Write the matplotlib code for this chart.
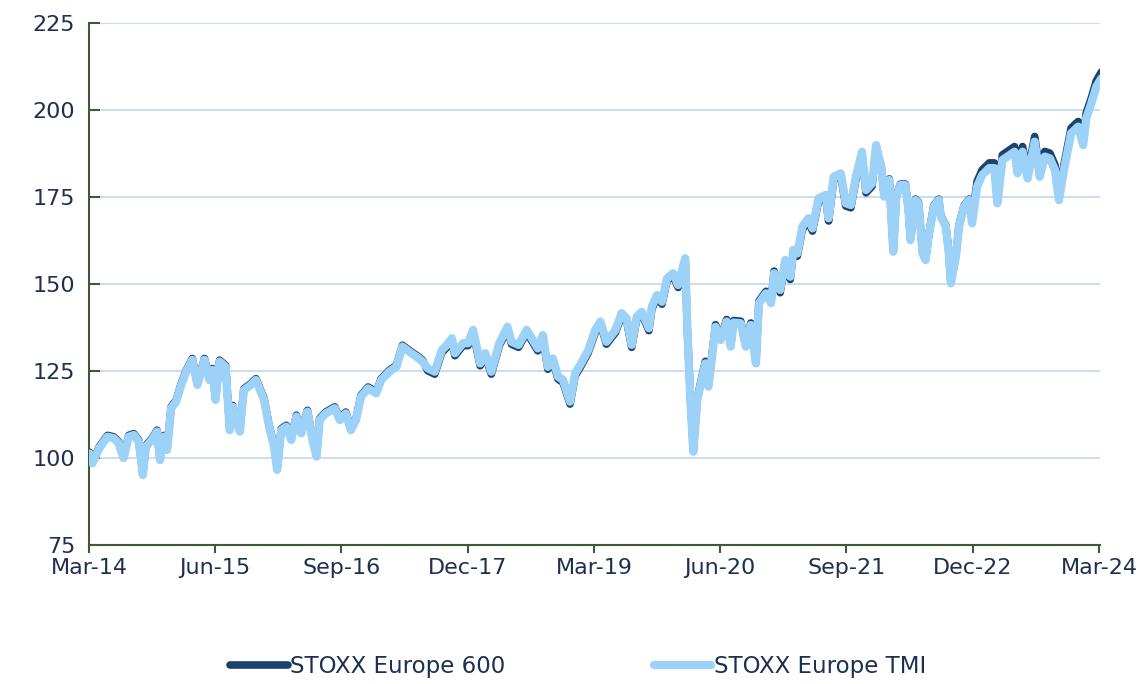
import matplotlib as mpl
mpl.use('Agg')
import matplotlib.pyplot as plt
import numpy as np

# dates as decimal years (rebased to 100)
dates = [
    2014.17, 2014.20, 2014.27, 2014.35, 2014.41, 2014.46, 2014.51, 2014.56, 2014.61, 2014.66,
    2014.70, 2014.73, 2014.79, 2014.84, 2014.87, 2014.91, 2014.94, 2014.98, 2015.03, 2015.08,
    2015.13, 2015.19, 2015.24, 2015.31, 2015.36, 2015.39, 2015.42, 2015.46, 2015.52, 2015.56,
    2015.59, 2015.66, 2015.70, 2015.77, 2015.82, 2015.90, 2015.95, 2016.00, 2016.03, 2016.07,
    2016.12, 2016.17, 2016.22, 2016.27, 2016.33, 2016.38, 2016.42, 2016.45, 2016.51, 2016.60,
    2016.65, 2016.71, 2016.76, 2016.81, 2016.86, 2016.93, 2017.01, 2017.06, 2017.14, 2017.21,
    2017.27, 2017.34, 2017.41, 2017.47, 2017.52, 2017.59, 2017.66, 2017.71, 2017.76, 2017.79,
    2017.87, 2017.92, 2017.97, 2018.04, 2018.09, 2018.15, 2018.23, 2018.31, 2018.35, 2018.42,
    2018.50, 2018.55, 2018.61, 2018.66, 2018.71, 2018.76, 2018.81, 2018.86, 2018.93, 2018.98,
    2019.04, 2019.11, 2019.18, 2019.23, 2019.29, 2019.38, 2019.44, 2019.49, 2019.54, 2019.59,
    2019.64, 2019.71, 2019.74, 2019.79, 2019.84, 2019.89, 2019.95, 2020.00, 2020.07, 2020.09,
    2020.12, 2020.15, 2020.19, 2020.24, 2020.27, 2020.30, 2020.37, 2020.42, 2020.48, 2020.52,
    2020.55, 2020.62, 2020.67, 2020.72, 2020.77, 2020.80, 2020.87, 2020.92, 2020.95, 2021.01,
    2021.06, 2021.11, 2021.14, 2021.18, 2021.23, 2021.29, 2021.33, 2021.39, 2021.46, 2021.49,
    2021.54, 2021.61, 2021.66, 2021.71, 2021.76, 2021.82, 2021.86, 2021.92, 2021.96, 2022.01,
    2022.04, 2022.09, 2022.13, 2022.16, 2022.20, 2022.25, 2022.28, 2022.30, 2022.35, 2022.38,
    2022.42, 2022.45, 2022.48, 2022.53, 2022.58, 2022.60, 2022.65, 2022.68, 2022.70, 2022.75,
    2022.78, 2022.83, 2022.88, 2022.91, 2022.96, 2023.01, 2023.08, 2023.13, 2023.16, 2023.21,
    2023.26, 2023.33, 2023.36, 2023.41, 2023.46, 2023.53, 2023.58, 2023.63, 2023.68, 2023.73,
    2023.77, 2023.82, 2023.89, 2023.96, 2024.01, 2024.04, 2024.09, 2024.14, 2024.19,
]

stoxx_tmi = [
    101.3, 98.5, 102.9, 106.1, 105.7, 104.3, 100.0, 106.1, 106.6, 104.7,
    95.1, 103.2, 105.2, 107.6, 99.4, 106.1, 102.3, 114.3, 116.2, 121.0,
    124.8, 128.2, 121.0, 128.2, 122.4, 125.3, 116.7, 127.7, 126.2, 108.0,
    114.7, 107.6, 119.5, 121.0, 122.4, 116.7, 109.0, 103.2, 96.6, 108.0,
    109.0, 105.2, 111.9, 107.1, 113.3, 105.2, 100.4, 110.9, 112.8, 114.3,
    110.9, 112.8, 108.0, 110.9, 117.6, 120.0, 118.6, 122.4, 124.8, 126.2,
    132.0, 130.5, 129.1, 127.7, 125.8, 124.8, 131.0, 132.5, 134.4, 130.1,
    133.0, 133.0, 136.8, 127.2, 130.1, 124.8, 133.0, 137.7, 133.4, 132.5,
    136.8, 134.4, 131.5, 135.3, 126.2, 128.6, 123.4, 122.4, 116.2, 124.3,
    127.2, 131.0, 136.8, 139.2, 133.4, 136.8, 141.6, 140.1, 132.5, 140.6,
    142.0, 137.3, 143.5, 146.8, 144.9, 151.6, 153.1, 149.7, 157.4, 137.7,
    117.6, 101.8, 116.7, 123.4, 127.2, 120.5, 137.7, 133.9, 139.2, 132.0,
    138.9, 138.7, 132.0, 138.2, 127.2, 144.5, 147.3, 144.5, 153.1, 148.3,
    156.9, 152.1, 159.8, 158.8, 166.5, 168.9, 166.0, 174.6, 175.6, 168.9,
    180.8, 181.8, 173.2, 172.7, 180.8, 188.0, 177.0, 178.9, 189.9, 183.7,
    175.1, 179.9, 159.3, 175.1, 178.4, 178.4, 171.3, 162.6, 174.1, 173.2,
    158.8, 156.9, 163.6, 172.2, 174.1, 169.3, 166.5, 158.8, 150.2, 157.9,
    166.5, 172.2, 174.1, 167.4, 178.0, 181.3, 183.3, 183.3, 173.2, 185.6,
    186.6, 188.0, 181.8, 188.0, 180.3, 190.9, 180.8, 186.6, 186.1, 182.8,
    174.1, 182.8, 193.3, 195.2, 189.9, 197.6, 201.9, 206.7, 209.1,
]

stoxx_600 = [
    101.7, 98.9, 103.3, 106.5, 106.1, 104.7, 100.4, 106.5, 107.0, 105.1,
    95.5, 103.6, 105.6, 108.0, 99.8, 106.5, 102.7, 114.7, 116.6, 121.4,
    125.2, 128.6, 121.4, 128.6, 122.8, 125.7, 117.1, 128.1, 126.6, 108.4,
    115.1, 108.0, 119.9, 121.4, 122.8, 117.1, 109.4, 103.6, 97.0, 108.4,
    109.4, 105.6, 112.3, 107.5, 113.7, 105.6, 100.8, 111.3, 113.2, 114.7,
    111.3, 113.2, 108.4, 111.3, 118.0, 120.4, 119.0, 122.8, 125.2, 126.6,
    132.4, 130.9, 129.5, 128.1, 125.1, 124.1, 130.3, 131.8, 133.7, 129.4,
    132.3, 132.3, 136.1, 126.5, 129.4, 124.1, 132.3, 137.0, 132.7, 131.8,
    136.1, 133.7, 130.8, 134.6, 125.5, 127.9, 122.7, 121.7, 115.5, 123.6,
    126.5, 130.3, 136.1, 138.5, 132.7, 136.1, 140.9, 139.4, 131.8, 139.9,
    141.3, 136.6, 142.8, 146.1, 144.2, 150.9, 152.4, 149.0, 156.7, 137.7,
    118.2, 102.4, 117.3, 124.0, 127.8, 121.1, 138.3, 134.5, 139.8, 132.6,
    139.5, 139.3, 132.6, 138.8, 127.8, 145.1, 147.9, 145.1, 153.7, 147.5,
    156.1, 151.3, 159.0, 158.0, 165.7, 168.1, 165.2, 173.8, 174.8, 168.1,
    180.0, 181.0, 172.4, 171.9, 180.0, 187.2, 176.2, 178.1, 189.1, 183.9,
    175.4, 180.2, 159.6, 175.4, 178.7, 178.7, 171.6, 162.9, 174.4, 173.5,
    159.1, 157.2, 163.9, 172.5, 174.4, 169.6, 166.8, 159.1, 150.5, 158.2,
    166.8, 172.5, 174.4, 168.9, 179.5, 182.8, 184.8, 184.8, 174.7, 187.1,
    188.1, 189.5, 183.3, 189.5, 181.8, 192.4, 182.3, 188.1, 187.6, 184.3,
    175.6, 184.3, 194.8, 196.7, 191.4, 199.1, 203.4, 208.4, 210.9,
]

tick_pos = [2014 + 2 / 12 + 1.25 * k for k in range(9)]
tick_labels = ['Mar-14', 'Jun-15', 'Sep-16', 'Dec-17', 'Mar-19',
               'Jun-20', 'Sep-21', 'Dec-22', 'Mar-24']
y_ticks = [75, 100, 125, 150, 175, 200, 225]

text_color = '#1f2f4f'
axis_color = '#3e5b36'
grid_color = '#c6dbf0'
dark_blue = '#1b426e'
light_blue = '#9dd2f8'

plt.rcParams['font.family'] = ['DejaVu Sans']

fig = plt.figure(figsize=(11.45, 6.84), dpi=100)
ax = fig.add_axes([0.0777, 0.2032, 0.883, 0.7632])

ax.plot(dates, stoxx_600, color=dark_blue, lw=5.5, solid_capstyle='round',
        solid_joinstyle='round', label='STOXX Europe 600', zorder=3)
ax.plot(dates, stoxx_tmi, color=light_blue, lw=6.0, solid_capstyle='round',
        solid_joinstyle='round', label='STOXX Europe TMI', zorder=4)

ax.set_xlim(tick_pos[0], tick_pos[-1] + 0.01)
ax.set_ylim(75, 225)
ax.set_xticks(tick_pos)
ax.set_xticklabels(tick_labels)
ax.set_yticks(y_ticks)

for y in y_ticks[1:]:
    ax.axhline(y, color=grid_color, lw=1.3, zorder=1)

for side in ['top', 'right']:
    ax.spines[side].set_visible(False)
for side in ['left', 'bottom']:
    ax.spines[side].set_color(axis_color)
    ax.spines[side].set_linewidth(1.5)

ax.tick_params(axis='y', direction='in', length=8, width=1.5, color=axis_color,
               labelsize=16, labelcolor=text_color, pad=10)
ax.tick_params(axis='x', direction='out', length=6, width=1.5, color=axis_color,
               labelsize=16, labelcolor=text_color, pad=3)

leg = fig.legend(loc='center', bbox_to_anchor=(0.505, 0.025), ncol=2, frameon=False,
                 fontsize=16.5, handlelength=2.5, handletextpad=0.1, columnspacing=6.5)
for t in leg.get_texts():
    t.set_color(text_color)

fig.savefig('out.png', dpi=100)
